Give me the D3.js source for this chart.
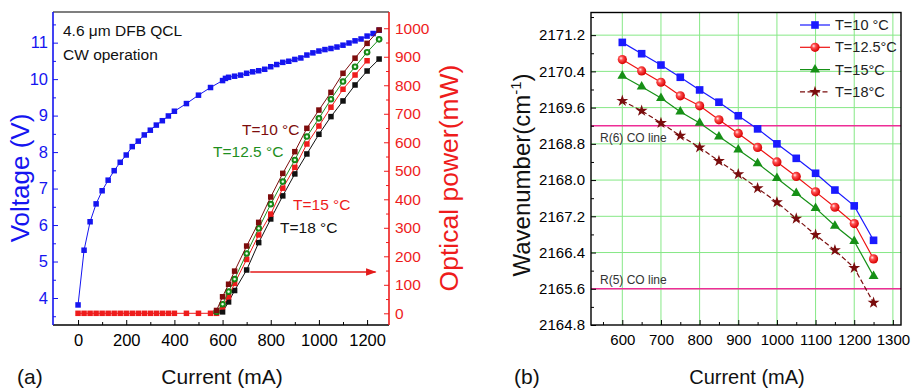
<!DOCTYPE html>
<html><head><meta charset="utf-8">
<script src="https://cdn.jsdelivr.net/npm/d3@7"></script>
<style>body{margin:0;background:#fff} svg{display:block} text{font-family:Arial,'Liberation Sans',sans-serif}</style>
</head><body><svg id="c" width="912" height="392"></svg>
<script>
// ---------- Panel (a) data ----------
const voltCurrent = [0,25,50,75,100,125,150,175,200,225,250,275,300,325,350,375,400,450,500,550,600,612,625,
  650,675,700,725,750,775,800,825,850,875,900,925,950,975,1000,1025,1050,1075,1100,1125,1150,1175,1200,1225,1250];
const voltage = [3.81,5.31,6.09,6.58,6.94,7.23,7.49,7.72,7.92,8.15,8.30,8.47,8.60,8.74,8.86,8.99,9.12,9.33,9.56,9.77,9.96,10.02,10.05,
  10.08,10.11,10.16,10.20,10.23,10.27,10.34,10.40,10.46,10.49,10.54,10.58,10.66,10.72,10.77,10.81,10.84,10.88,10.93,10.99,11.05,11.10,11.18,11.25,11.34];

const curT10 = [575,600,625,650,700,750,800,850,900,950,1000,1050,1100,1150,1200,1250];
const powT10 = [10,58,102,148,236,319,408,491,567,649,713,775,842,895,947,994];
const curT125 = [575,600,625,650,700,750,800,850,900,950,1000,1050,1100,1150,1200,1250];
const powT125 = [5,32,76,120,210,298,383,462,538,620,684,751,813,865,916,961];
const curT15 = [0,25,50,75,100,125,150,175,200,225,250,275,300,325,350,375,400,450,500,550,575,600,625,650,700,750,800,850,900,950,1000,1050,1100,1150,1200];
const powT15 = [0,0,0,0,0,0,0,0,0,0,0,0,0,0,0,0,0,0,0,0,0,23,58,105,189,275,348,439,512,594,657,723,786,836,886];
const curT18 = [600,625,650,700,750,800,850,900,950,1000,1050,1100,1150,1200,1250];
const powT18 = [5,40,80,152,248,331,412,489,559,628,690,745,801,850,892];

const aXTicks = [0,200,400,600,800,1000,1200];
const aXMinor = [100,300,500,700,900,1100];
const aVTicks = [4,5,6,7,8,9,10,11];
const aVMinor = [3.5,4.5,5.5,6.5,7.5,8.5,9.5,10.5,11.5];
const aPTicks = [0,100,200,300,400,500,600,700,800,900,1000];
const aPMinor = [50,150,250,350,450,550,650,750,850,950];

// ---------- Panel (b) data ----------
const bCurrent = [600,650,700,750,800,850,900,950,1000,1050,1100,1150,1200,1250];
const wnT10  = [2171.04,2170.79,2170.54,2170.27,2169.99,2169.72,2169.42,2169.13,2168.80,2168.48,2168.15,2167.78,2167.43,2166.67];
const wnT125 = [2170.66,2170.41,2170.16,2169.86,2169.64,2169.33,2169.03,2168.72,2168.40,2168.08,2167.74,2167.40,2167.04,2166.26];
const wnT15  = [2170.30,2170.06,2169.81,2169.51,2169.26,2168.96,2168.67,2168.37,2168.04,2167.71,2167.38,2166.99,2166.65,2165.88];
const wnT18  = [2169.75,2169.53,2169.26,2168.98,2168.72,2168.42,2168.13,2167.82,2167.51,2167.15,2166.79,2166.45,2166.06,2165.29];
const coLines = [{name:"R(6) CO line", wn:2169.2, below:true},{name:"R(5) CO line", wn:2165.6, below:false}];
const bXTicks = [600,700,800,900,1000,1100,1200,1300];
const bXMinor = [550,650,750,850,950,1050,1150,1250];
const bYTicks = [2164.8,2165.6,2166.4,2167.2,2168.0,2168.8,2169.6,2170.4,2171.2];
const bYMinor = [2165.2,2166.0,2166.8,2167.6,2168.4,2169.2,2170.0,2170.8,2171.6];
const bLegend = ["T=10 °C","T=12.5°C","T=15°C","T=18°C"];

const svg = d3.select("#c");
const defs = svg.append("defs");
const gr = defs.append("radialGradient").attr("id","redball").attr("cx","40%").attr("cy","40%").attr("r","60%").attr("fx","35%").attr("fy","35%");
gr.append("stop").attr("offset","0%").attr("stop-color","#fff0f0");
gr.append("stop").attr("offset","35%").attr("stop-color","#ff5050");
gr.append("stop").attr("offset","100%").attr("stop-color","#d80000");
const gg = defs.append("radialGradient").attr("id","greenball").attr("cx","50%").attr("cy","50%").attr("r","50%");
gg.append("stop").attr("offset","0%").attr("stop-color","#ffffff");
gg.append("stop").attr("offset","25%").attr("stop-color","#d8f5d8");
gg.append("stop").attr("offset","50%").attr("stop-color","#1e9a1e");
gg.append("stop").attr("offset","100%").attr("stop-color","#0e6e0e");
defs.append("marker").attr("id","arrow").attr("viewBox","0 0 10 10").attr("refX",9).attr("refY",5)
  .attr("markerWidth",7).attr("markerHeight",7).attr("orient","auto")
  .append("path").attr("d","M0,1.5 L10,5 L0,8.5 z").attr("fill","#e41a1a");

function drawAxis(g, axisFn, scale, majors, minors, fmt, color, fs, pad){
  const a = g.append("g");
  a.call(axisFn(scale).tickValues(majors).tickFormat(fmt).tickSizeInner(-5).tickSizeOuter(0).tickPadding(pad));
  a.select(".domain").remove();
  a.selectAll("line").attr("stroke",color);
  a.selectAll("text").attr("fill",color).style("font-size",fs+"px").style("font-family","Arial,'Liberation Sans',sans-serif");
  const m = g.append("g");
  m.call(axisFn(scale).tickValues(minors).tickFormat("").tickSizeInner(-3).tickSizeOuter(0));
  m.select(".domain").remove();
  m.selectAll("line").attr("stroke",color);
  return a;
}

// ================= Panel (a) =================
const A = {l:53, r:389, t:12, b:325};
const ax = d3.scaleLinear().domain([-104,1291]).range([A.l,A.r]);
const av = d3.scaleLinear().domain([3.26,11.84]).range([A.b,A.t]);
const ap = d3.scaleLinear().domain([-41,1057]).range([A.b,A.t]);
const ga = svg.append("g");

const blue = "#1515f0", red = "#ee1c1c", green = "#1e8f1e", maroon = "#7d0c0c", black = "#111";

function lineSeries(g, xs, ys, xScale, yScale, color, width, dash){
  const d = xs.map((x,i)=>[x,ys[i]]);
  g.append("path").datum(d).attr("fill","none").attr("stroke",color).attr("stroke-width",width)
   .attr("stroke-dasharray",dash||null)
   .attr("d", d3.line().x(p=>xScale(p[0])).y(p=>yScale(p[1])));
  return d;
}
function squares(g, d, xScale, yScale, color, s){
  g.selectAll(null).data(d).enter().append("rect")
   .attr("x",p=>xScale(p[0])-s/2).attr("y",p=>yScale(p[1])-s/2).attr("width",s).attr("height",s).attr("fill",color);
}

// voltage
let dv = lineSeries(ga, voltCurrent, voltage, ax, av, blue, 1);
squares(ga, dv, ax, av, blue, 5.5);
// power
let d18 = lineSeries(ga, curT18, powT18, ax, ap, black, 1);
squares(ga, d18, ax, ap, black, 5.5);
let d15 = lineSeries(ga, curT15, powT15, ax, ap, red, 1);
squares(ga, d15, ax, ap, red, 5.5);
let d125 = lineSeries(ga, curT125, powT125, ax, ap, green, 1);
ga.selectAll(null).data(d125).enter().append("circle").attr("cx",p=>ax(p[0])).attr("cy",p=>ap(p[1])).attr("r",3.3).attr("fill","url(#greenball)");
let d10 = lineSeries(ga, curT10, powT10, ax, ap, maroon, 1);
squares(ga, d10, ax, ap, maroon, 5.5);

// frame (a)
ga.append("line").attr("x1",A.l).attr("x2",A.r).attr("y1",A.t).attr("y2",A.t).attr("stroke","#000").attr("stroke-width",1.2);
ga.append("line").attr("x1",A.l).attr("x2",A.r).attr("y1",A.b).attr("y2",A.b).attr("stroke","#000").attr("stroke-width",1.6);
ga.append("line").attr("x1",A.l).attr("x2",A.l).attr("y1",A.t).attr("y2",A.b).attr("stroke",blue).attr("stroke-width",1.6);
ga.append("line").attr("x1",A.r).attr("x2",A.r).attr("y1",A.t).attr("y2",A.b).attr("stroke",red).attr("stroke-width",1.6);

drawAxis(ga.append("g").attr("transform",`translate(0,${A.b})`), d3.axisBottom, ax, aXTicks, aXMinor, d3.format("d"), "#000", 16.5, 9);
drawAxis(ga.append("g").attr("transform",`translate(${A.l},0)`), d3.axisLeft, av, aVTicks, aVMinor, d3.format("d"), blue, 16.5, 5);
drawAxis(ga.append("g").attr("transform",`translate(${A.r},0)`), d3.axisRight, ap, aPTicks, aPMinor, d3.format("d"), red, 15.5, 6);

// annotations (a)
const ann = [
  {t:"4.6 μm DFB QCL", x:63, y:36, c:"#111"},
  {t:"CW operation", x:63, y:60, c:"#111"},
  {t:"T=10 °C", x:242, y:135, c:maroon},
  {t:"T=12.5 °C", x:213, y:157, c:green},
  {t:"T=15 °C", x:293, y:210, c:red},
  {t:"T=18 °C", x:280, y:233, c:"#111"}
];
ga.selectAll(null).data(ann).enter().append("text").attr("x",d=>d.x).attr("y",d=>d.y).attr("fill",d=>d.c)
  .style("font-size","15.5px").text(d=>d.t);
ga.append("line").attr("x1",ax(715)).attr("x2",ax(1235)).attr("y1",ap(145)).attr("y2",ap(145))
  .attr("stroke","#e41a1a").attr("stroke-width",1.5).attr("marker-end","url(#arrow)");

ga.append("text").attr("transform","translate(29,178) rotate(-90)").attr("text-anchor","middle")
  .attr("fill",blue).style("font-size","26px").text("Voltage (V)");
ga.append("text").attr("transform","translate(458,178) rotate(-90)").attr("text-anchor","middle")
  .attr("fill",red).style("font-size","26.5px").text("Optical power(mW)");
ga.append("text").attr("x",222).attr("y",384).attr("text-anchor","middle").attr("fill","#111").style("font-size","21px").text("Current (mA)");
ga.append("text").attr("x",17).attr("y",384).attr("fill","#111").style("font-size","21px").text("(a)");

// ================= Panel (b) =================
const B = {l:591, r:901, t:12.5, b:325};
const bx = d3.scaleLinear().domain([519,1321]).range([B.l,B.r]);
const by = d3.scaleLinear().domain([2164.8,2171.7]).range([B.b,B.t]);
const gb = svg.append("g");
const gridC = "#86e886";
gb.selectAll(null).data(bXTicks).enter().append("line").attr("x1",d=>bx(d)).attr("x2",d=>bx(d)).attr("y1",B.t).attr("y2",B.b).attr("stroke",gridC).attr("stroke-width",1);
gb.selectAll(null).data(bYTicks.slice(1)).enter().append("line").attr("y1",d=>by(d)).attr("y2",d=>by(d)).attr("x1",B.l).attr("x2",B.r).attr("stroke",gridC).attr("stroke-width",1);
gb.selectAll(null).data(coLines).enter().append("line").attr("y1",d=>by(d.wn)).attr("y2",d=>by(d.wn)).attr("x1",B.l).attr("x2",B.r).attr("stroke","#ee2d96").attr("stroke-width",1.6);
gb.selectAll(null).data(coLines).enter().append("text").attr("x",600).attr("y",d=>by(d.wn)+(d.below?16:-5)).attr("fill","#333").style("font-size","12px").text(d=>d.name);

const bBlue="#1a1aff", bRed="#ee1111", bGreen="#169016", bMaroon="#7a0d0d";
const sym = {
  sq: d3.symbol().type(d3.symbolSquare).size(58),
  tri: d3.symbol().type(d3.symbolTriangle).size(42),
  star: d3.symbol().type(d3.symbolStar).size(44)
};
function bSeries(ys, color, dash, kind){
  const d = bCurrent.map((x,i)=>[x,ys[i]]);
  gb.append("path").datum(d).attr("fill","none").attr("stroke",color).attr("stroke-width",1.2).attr("stroke-dasharray",dash||null)
    .attr("d", d3.line().x(p=>bx(p[0])).y(p=>by(p[1])));
  const s = gb.selectAll(null).data(d).enter();
  if(kind==="circle") s.append("circle").attr("cx",p=>bx(p[0])).attr("cy",p=>by(p[1])).attr("r",4.6).attr("fill","url(#redball)");
  else s.append("path").attr("transform",p=>`translate(${bx(p[0])},${by(p[1])})`).attr("d",sym[kind]).attr("fill",color);
}
bSeries(wnT18, bMaroon, "5,2.5", "star");
bSeries(wnT15, bGreen, null, "tri");
bSeries(wnT125, bRed, null, "circle");
bSeries(wnT10, bBlue, null, "sq");

gb.append("rect").attr("x",B.l).attr("y",B.t).attr("width",B.r-B.l).attr("height",B.b-B.t).attr("fill","none").attr("stroke","#000").attr("stroke-width",1.4);
drawAxis(gb.append("g").attr("transform",`translate(0,${B.b})`), d3.axisBottom, bx, bXTicks, bXMinor, d3.format("d"), "#000", 15, 9);
drawAxis(gb.append("g").attr("transform",`translate(${B.l},0)`), d3.axisLeft, by, bYTicks, bYMinor, d3.format(".1f"), "#000", 15, 6);

// legend
const legColors=[bBlue,bRed,bGreen,bMaroon], legKinds=["sq","circle","tri","star"], legDash=[null,null,null,"5,2.5"];
bLegend.forEach((t,i)=>{
  const y = 25 + i*22.3;
  gb.append("line").attr("x1",800).attr("x2",830).attr("y1",y).attr("y2",y).attr("stroke",legColors[i]).attr("stroke-width",1.2).attr("stroke-dasharray",legDash[i]);
  if(legKinds[i]==="circle") gb.append("circle").attr("cx",815).attr("cy",y).attr("r",4.6).attr("fill","url(#redball)");
  else gb.append("path").attr("transform",`translate(815,${y})`).attr("d",sym[legKinds[i]]).attr("fill",legColors[i]);
  gb.append("text").attr("x",835).attr("y",y+5).attr("fill","#222").style("font-size","14.5px").text(t);
});

const wt = gb.append("text").attr("transform","translate(530,175) rotate(-90)").attr("text-anchor","middle").attr("fill","#111").style("font-size","24px");
wt.append("tspan").text("Wavenumber(cm");
wt.append("tspan").attr("dy",-9).style("font-size","15px").text("-1");
wt.append("tspan").attr("dy",9).text(")");
gb.append("text").attr("x",747).attr("y",384).attr("text-anchor","middle").attr("fill","#111").style("font-size","20px").text("Current (mA)");
gb.append("text").attr("x",514).attr("y",384).attr("fill","#111").style("font-size","21px").text("(b)");
</script></body></html>
